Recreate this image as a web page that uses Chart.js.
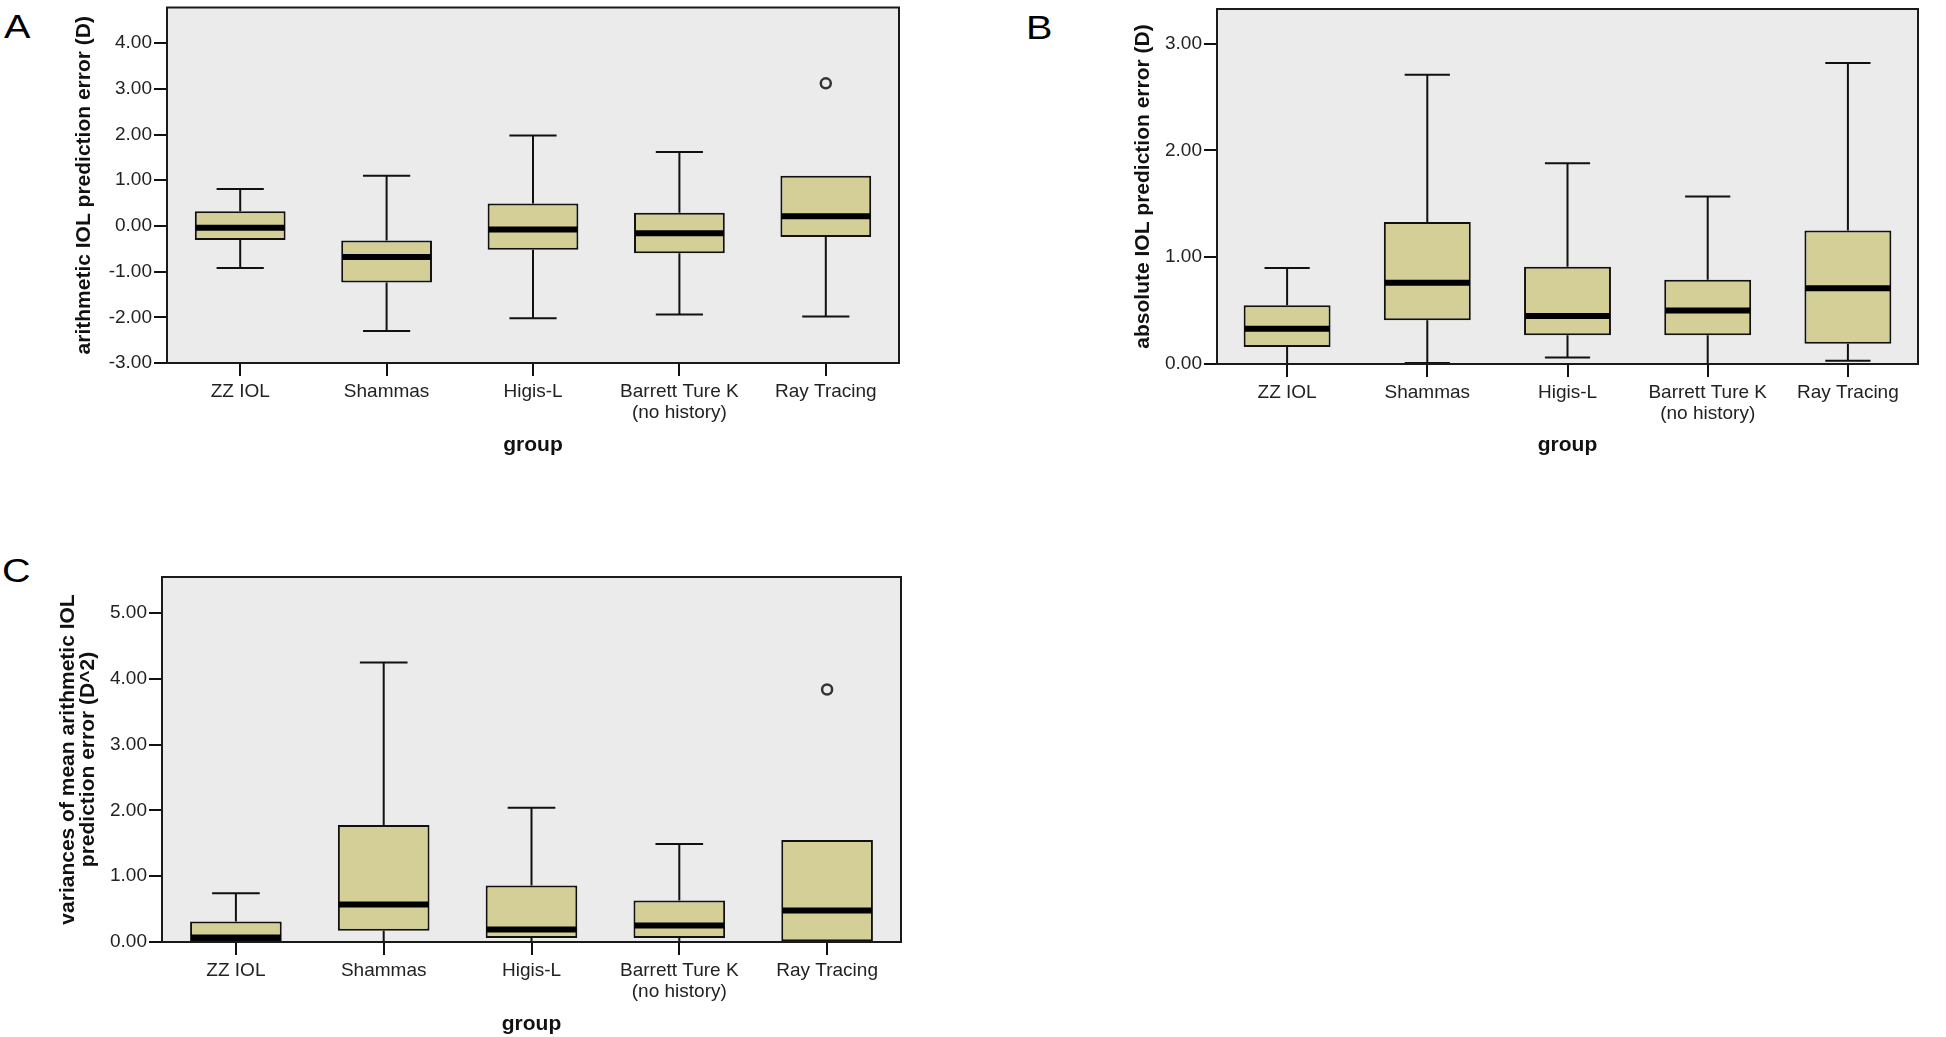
<!DOCTYPE html>
<html>
<head>
<meta charset="utf-8">
<script src="https://cdn.jsdelivr.net/npm/chart.js@4.4.1/dist/chart.umd.min.js"></script>
<style>
  html, body { margin: 0; padding: 0; background: #fff; }
  body { width: 1946px; height: 1037px; position: relative; overflow: hidden; }
  .panel { position: absolute; }
  .letter { position: absolute; font-family: "Liberation Sans", Arial, sans-serif; font-size: 33px; line-height: 33px; color: #000; transform: scaleX(1.2); transform-origin: left top; }
</style>
</head>
<body>
<div class="letter" style="left:4px; top:10px;">A</div>
<div class="letter" style="left:1026px; top:11px;">B</div>
<div class="letter" style="left:2px; top:554px;">C</div>

<div class="panel" style="left:0; top:0; width:910px; height:460px;"><canvas id="chart-a"></canvas></div>
<div class="panel" style="left:1050px; top:0; width:896px; height:460px;"><canvas id="chart-b"></canvas></div>
<div class="panel" style="left:0; top:500px; width:910px; height:537px;"><canvas id="chart-c"></canvas></div>

<script>
const groups = ["ZZ IOL", "Shammas", "Higis-L", ["Barrett Ture K", "(no history)"], "Ray Tracing"];

// A: arithmetic IOL prediction error
const aLow = [-0.92, -2.30, -2.02, -1.94, -1.98];
const aQ1 = [-0.31, -1.24, -0.52, -0.60, -0.24];
const aMed = [-0.04, -0.68, -0.08, -0.16, 0.21];
const aQ3 = [0.32, -0.32, 0.49, 0.29, 1.10];
const aHigh = [0.81, 1.10, 1.98, 1.62, 1.10];
const aOut = [null, null, null, null, 3.12];
const aTicks = [-3, -2, -1, 0, 1, 2, 3, 4];

// B: absolute IOL prediction error
const bLow = [0.00, 0.01, 0.06, 0.00, 0.03];
const bQ1 = [0.16, 0.41, 0.27, 0.27, 0.19];
const bMed = [0.33, 0.76, 0.45, 0.50, 0.71];
const bQ3 = [0.55, 1.33, 0.91, 0.79, 1.25];
const bHigh = [0.90, 2.71, 1.88, 1.57, 2.82];
const bOut = [null, null, null, null, null];
const bTicks = [0, 1, 2, 3];

// C: variances of mean arithmetic IOL prediction error
const cLow = [0.00, 0.00, 0.00, 0.00, 0.00];
const cQ1 = [0.01, 0.17, 0.06, 0.06, 0.01];
const cMed = [0.07, 0.57, 0.19, 0.25, 0.48];
const cQ3 = [0.31, 1.78, 0.86, 0.63, 1.55];
const cHigh = [0.74, 4.25, 2.04, 1.49, 1.55];
const cOut = [null, null, null, null, 3.84];
const cTicks = [0, 1, 2, 3, 4, 5];

Chart.defaults.font.family = "'Liberation Sans', Arial, sans-serif";
Chart.defaults.color = "#222";

const plotFrame = {
  id: "plotFrame",
  beforeDraw(chart) {
    const { ctx, chartArea: { left, top, width, height } } = chart;
    ctx.save();
    ctx.fillStyle = "#ebebeb";
    ctx.fillRect(left, top, width, height);
    ctx.restore();
  },
  afterDraw(chart) {
    const { ctx, chartArea: { left, top, width, height } } = chart;
    ctx.save();
    ctx.strokeStyle = "#1a1a1a";
    ctx.lineWidth = 2;
    ctx.strokeRect(left, top, width, height);
    ctx.restore();
  },
};

function whiskerPlugin(lows, medians, highs) {
  return {
    id: "whiskers",
    beforeDatasetsDraw(chart) {
      const { ctx, scales: { x, y } } = chart;
      const bars = chart.getDatasetMeta(0).data;
      const boxes = chart.data.datasets[0].data;
      ctx.save();
      ctx.strokeStyle = "#111";
      ctx.lineWidth = 2;
      bars.forEach((bar, i) => {
        const cx = x.getPixelForValue(i);
        const cap = bar.width * 0.26;
        [[boxes[i][1], highs[i]], [boxes[i][0], lows[i]]].forEach(([from, to]) => {
          if (from === to) return;
          const y0 = y.getPixelForValue(from);
          const y1 = y.getPixelForValue(to);
          ctx.beginPath();
          ctx.moveTo(cx, y0);
          ctx.lineTo(cx, y1);
          ctx.moveTo(cx - cap, y1);
          ctx.lineTo(cx + cap, y1);
          ctx.stroke();
        });
      });
      ctx.restore();
    },
    afterDatasetsDraw(chart) {
      const { ctx, scales: { y } } = chart;
      const bars = chart.getDatasetMeta(0).data;
      ctx.save();
      ctx.strokeStyle = "#000";
      ctx.lineWidth = 6;
      bars.forEach((bar, i) => {
        const my = y.getPixelForValue(medians[i]);
        ctx.beginPath();
        ctx.moveTo(bar.x - bar.width / 2 + 1, my);
        ctx.lineTo(bar.x + bar.width / 2 - 1, my);
        ctx.stroke();
      });
      ctx.restore();
    },
  };
}

function makeBoxChart(canvasId, cfg) {
  const boxes = cfg.q1.map((v, i) => [v, cfg.q3[i]]);
  return new Chart(document.getElementById(canvasId), {
    type: "bar",
    data: {
      labels: groups,
      datasets: [
        {
          type: "bar",
          data: boxes,
          backgroundColor: "#d4cf96",
          borderColor: "#111",
          borderWidth: 2,
          borderSkipped: false,
          barPercentage: 0.62,
          categoryPercentage: 1,
        },
        {
          type: "line",
          data: cfg.outliers,
          showLine: false,
          pointRadius: 5,
          pointBorderWidth: 2.5,
          pointBorderColor: "#333",
          pointBackgroundColor: "#ebebeb",
        },
      ],
    },
    options: {
      responsive: true,
      maintainAspectRatio: false,
      animation: false,
      layout: { padding: cfg.padding },
      plugins: { legend: { display: false }, tooltip: { enabled: false } },
      scales: {
        x: {
          offset: true,
          afterFit: (s) => { s.height = cfg.xHeight; s.paddingLeft = 0; s.paddingRight = 0; },
          grid: { offset: false, drawOnChartArea: false, tickLength: 13, color: "#111", lineWidth: 2 },
          border: { display: false },
          ticks: { padding: 5, color: "#222", autoSkip: false, maxRotation: 0, font: { size: 19, lineHeight: 1.1 } },
          title: { display: true, text: "group", color: "#111", font: { size: 21, weight: "bold", lineHeight: 1.2 }, padding: { top: 0, bottom: cfg.groupPad } },
        },
        y: {
          min: cfg.yMin,
          max: cfg.yMax,
          afterBuildTicks: (s) => { s.ticks = cfg.ticks.map((v) => ({ value: v })); },
          afterFit: (s) => { s.width = cfg.yWidth; s.paddingTop = 0; s.paddingBottom = 0; },
          grid: { drawOnChartArea: false, tickLength: 13, color: "#111", lineWidth: 2 },
          border: { display: false },
          ticks: { padding: 2, color: "#222", font: { size: 19 }, callback: (v) => Number(v).toFixed(2) },
          title: { display: true, text: cfg.yTitle, color: "#111", font: { size: 21, weight: "bold", lineHeight: cfg.titleLine }, padding: { top: cfg.titlePad, bottom: 0 } },
        },
      },
    },
    plugins: [plotFrame, whiskerPlugin(cfg.low, cfg.med, cfg.high)],
  });
}

makeBoxChart("chart-a", {
  q1: aQ1, q3: aQ3, low: aLow, med: aMed, high: aHigh, outliers: aOut, ticks: aTicks,
  yMin: -3, yMax: 4.78,
  yTitle: "arithmetic IOL prediction error (D)", titleLine: 1.2, titlePad: 72,
  padding: { left: 0, right: 11, top: 3, bottom: 0 }, yWidth: 167, xHeight: 97, groupPad: 2,
});

makeBoxChart("chart-b", {
  q1: bQ1, q3: bQ3, low: bLow, med: bMed, high: bHigh, outliers: bOut, ticks: bTicks,
  yMin: 0, yMax: 3.325,
  yTitle: "absolute IOL prediction error (D)", titleLine: 1.2, titlePad: 81,
  padding: { left: 0, right: 28, top: 9, bottom: 0 }, yWidth: 167, xHeight: 96, groupPad: 2,
});

makeBoxChart("chart-c", {
  q1: cQ1, q3: cQ3, low: cLow, med: cMed, high: cHigh, outliers: cOut, ticks: cTicks,
  yMin: 0, yMax: 5.55,
  yTitle: ["variances of mean arithmetic IOL", "prediction error (D^2)"], titleLine: 0.92, titlePad: 59,
  padding: { left: 0, right: 9, top: 77, bottom: 0 }, yWidth: 162, xHeight: 95, groupPad: 0,
});
</script>
</body>
</html>
